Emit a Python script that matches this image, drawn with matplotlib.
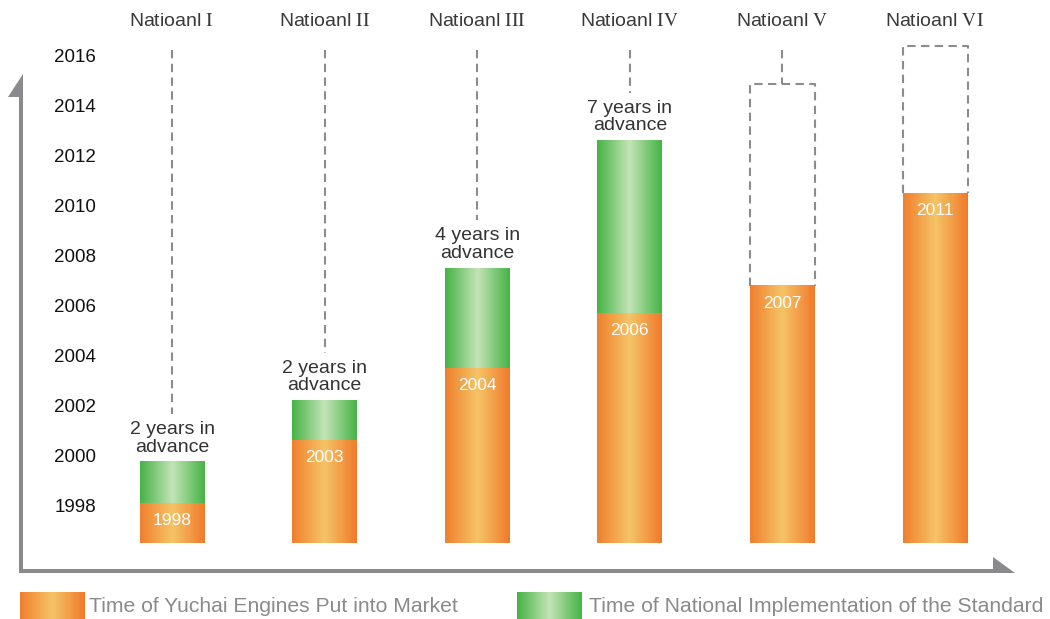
import numpy as np
import matplotlib.pyplot as plt
from matplotlib.colors import LinearSegmentedColormap
from matplotlib.patches import Polygon

plt.rcParams['font.family'] = ['Liberation Sans', 'DejaVu Sans']
plt.rcParams['mathtext.fontset'] = 'stix'

# data (years)
stages = ["I", "II", "III", "IV", "V", "VI"]
yuchai_top = [1998.2, 2000.7, 2003.6, 2005.8, 2006.9, 2010.6]
yuchai_labels = ["1998", "2003", "2004", "2006", "2007", "2011"]
national_top = [1999.85, 2002.3, 2007.6, 2012.7, None, None]
planned_top = [None, None, None, None, 2014.95, 2016.5]
advance_labels = ["2 years in\nadvance", "2 years in\nadvance",
                  "4 years in\nadvance", "7 years in\nadvance", None, None]
year_ticks = list(range(1998, 2017, 2))
base = 1996.6

W, H = 1050, 619
x0px, xstep = 172, 152.6      # pixel centre of first bar, bar spacing
y0px, ystep = 508, 25.0       # pixel of 1998, pixels per year

def dx(px):
    return (px - x0px) / xstep

def dy(py):
    return 1998 + (y0px - py) / ystep

orange = LinearSegmentedColormap.from_list("o", ["#f07f2e", "#f5c466", "#f07a2c"])
green = LinearSegmentedColormap.from_list("g", ["#45b346", "#c4e4b6", "#45b346"])
grad = np.linspace(0, 1, 256).reshape(1, -1)

fig = plt.figure(figsize=(W / 100, H / 100), dpi=100)
ax = fig.add_axes([0, 0, 1, 1])
ax.axis('off')

bw = 65 / xstep
gray = "#8a8a8c"
dash = dict(color="#8c8c8c", lw=1.5, linestyle=(0, (4, 2.6)))

for i in range(len(stages)):
    l, r = i - bw / 2, i + bw / 2
    ax.imshow(grad, extent=[l, r, base, yuchai_top[i]], cmap=orange,
              aspect='auto', zorder=2)
    ax.annotate(yuchai_labels[i], (i, yuchai_top[i]), xytext=(0, -10),
                textcoords='offset pixels', ha='center', va='top',
                color='white', fontsize=12.5, zorder=4)
    if national_top[i] is not None:
        ax.imshow(grad, extent=[l, r, yuchai_top[i], national_top[i]],
                  cmap=green, aspect='auto', zorder=2)
        ax.annotate(advance_labels[i], (i, national_top[i]), xytext=(0, 6),
                    textcoords='offset pixels', ha='center', va='bottom',
                    color='#333333', fontsize=14, linespacing=1.05)
        ax.plot([i, i], [dy(50), national_top[i] + 48 / ystep], **dash)
    if planned_top[i] is not None:
        ax.plot([l, l, r, r], [yuchai_top[i], planned_top[i], planned_top[i], yuchai_top[i]], **dash)
        if dy(50) > planned_top[i]:
            ax.plot([i, i], [dy(50), planned_top[i]], **dash)
    ax.text(i, dy(22), "Natioanl $\\mathrm{%s}$" % stages[i], ha='center',
            va='center', fontsize=14, color='#3a3a3a')

for yr in year_ticks:
    ax.text(dx(75), yr, str(yr), ha='center', va='center', fontsize=13.5,
            color='#111111')

# axis arrows
ax.plot([dx(21), dx(21)], [dy(573), dy(95)], color=gray, lw=2.9,
        solid_capstyle='butt')
ax.add_patch(Polygon([(dx(23), dy(74)), (dx(23), dy(97)), (dx(8), dy(97))],
                     closed=True, color=gray, lw=0))
ax.plot([dx(19), dx(995)], [dy(571), dy(571)], color=gray, lw=2.9,
        solid_capstyle='butt')
ax.add_patch(Polygon([(dx(993), dy(557)), (dx(1015), dy(573)), (dx(993), dy(573))],
                     closed=True, color=gray, lw=0))

# legend
ax.imshow(grad, extent=[dx(20), dx(85), dy(619), dy(592)], cmap=orange,
          aspect='auto')
ax.text(dx(89), dy(607), "Time of Yuchai Engines Put into Market",
        ha='left', va='center', fontsize=15.2, color='#8a8a8a')
ax.imshow(grad, extent=[dx(517), dx(582), dy(619), dy(592)], cmap=green,
          aspect='auto')
ax.text(dx(589), dy(607), "Time of National Implementation of the Standard",
        ha='left', va='center', fontsize=15.2, color='#8a8a8a')

ax.set_xlim(dx(0), dx(W))
ax.set_ylim(dy(H), dy(0))

fig.savefig("out.png", dpi=100)
